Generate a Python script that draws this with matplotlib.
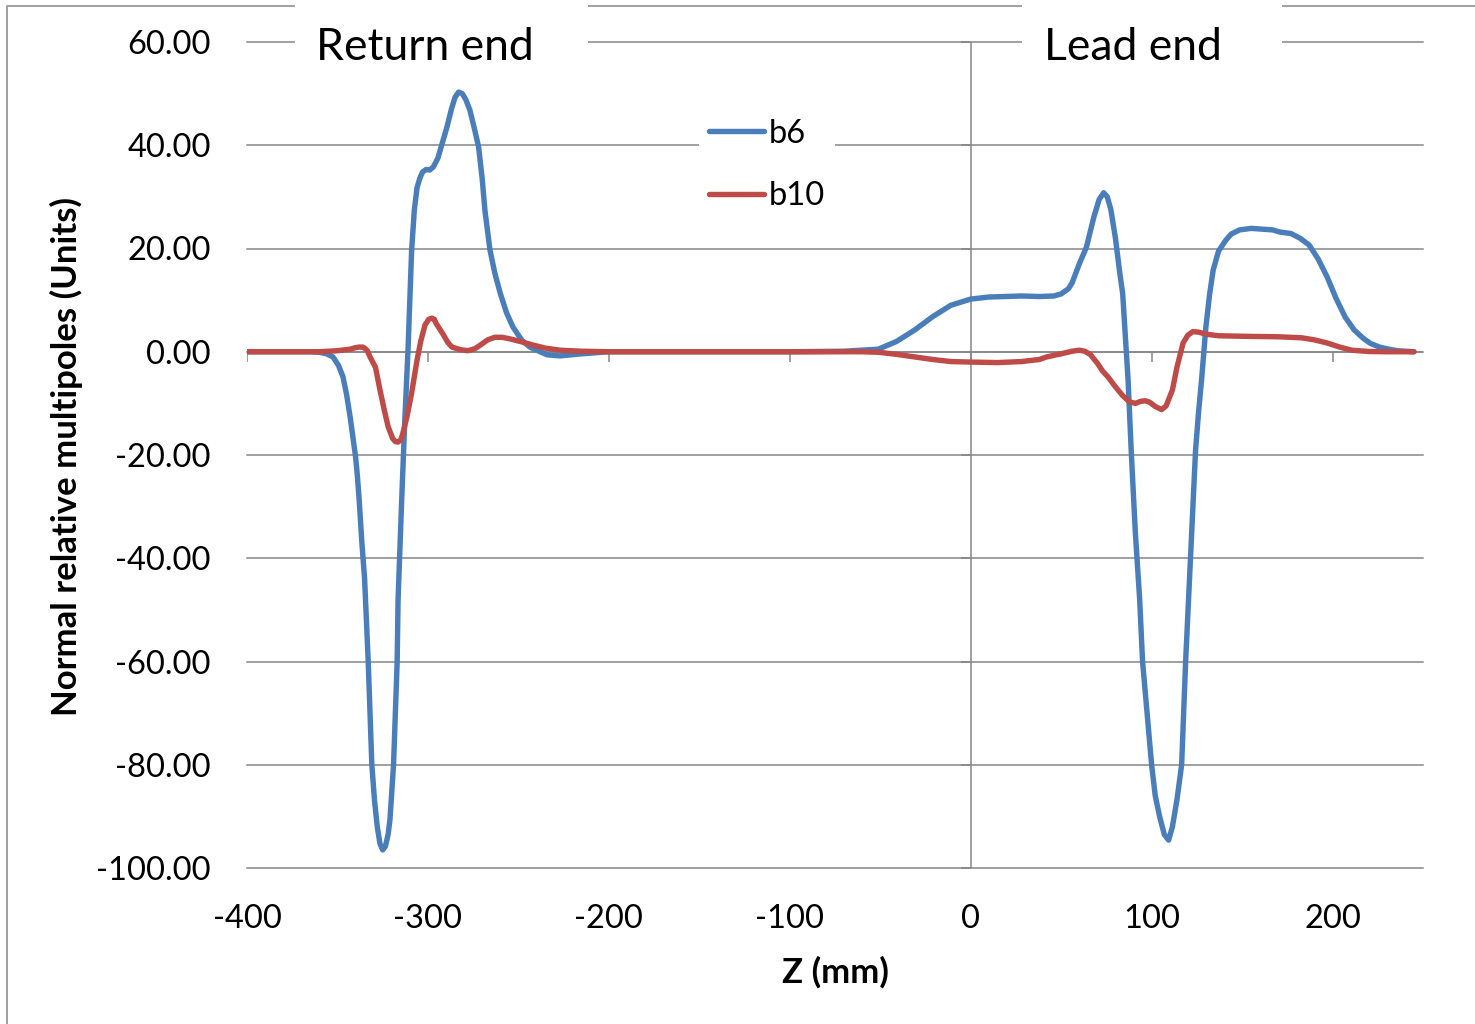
import matplotlib
matplotlib.use("Agg")
import matplotlib.pyplot as plt
from matplotlib.lines import Line2D
from matplotlib.patches import Rectangle

plt.rcParams["font.family"] = ["Lato", "DejaVu Sans"]

# data
z_b6 = [-400, -380, -365, -360, -356, -352.5, -349.5, -347, -345, -343, -341.5, -340,
        -339, -338, -336.5, -335, -333, -331, -329.5, -328, -326.5, -325, -323.5, -322,
        -321, -319, -317, -316.5, -314.5, -312.7, -311, -309, -307.5, -306, -304.5,
        -303, -301, -299, -297, -294.5, -292, -289.5, -287, -285, -283, -281, -279,
        -276.8, -274.5, -272, -270, -268.5, -265.7, -263, -260, -256.5, -253, -250,
        -248, -243.6, -238, -234, -227, -215, -200, -100, -70, -60, -51, -41, -31,
        -21, -11, 0, 10, 28, 38, 46, 50, 54, 56, 60, 64, 68, 71, 73.5, 75.5, 77.5,
        80, 82.5, 84, 87, 88.7, 91, 93.4, 95, 97.5, 100, 102, 104.4, 107, 109.4,
        111.5, 114, 116.6, 118.8, 120.4, 122.5, 124.3, 126, 127.6, 130, 132, 134,
        137, 141, 144, 148.6, 155, 167, 170.7, 177, 182, 187, 192, 197, 202, 207,
        212, 217, 221, 226, 231, 236, 245]
b6 = [0, 0, 0, -0.1, -0.4, -1, -2.6, -4.8, -8.2, -12.6, -16.5, -20.3,
      -24, -28.7, -37, -44, -60, -80, -87, -92, -95.3, -96.5, -95.8, -93.5,
      -90.7, -80, -60, -48, -28.7, -12.6, 0.4, 19.7, 27.5, 31.8, 33.6,
      34.8, 35.3, 35.2, 35.8, 37.5, 40.5, 43.5, 47, 49.3, 50.3, 50, 48.8,
      46.8, 43.5, 39.7, 33.5, 27.4, 19.7, 15.2, 11.3, 7.5, 4.8, 3.2,
      2.2, 0.9, 0, -0.6, -0.8, -0.4, 0, 0, 0.1, 0.3, 0.5, 2.0, 4.2,
      6.8, 9.0, 10.2, 10.6, 10.8, 10.7, 10.8, 11.2, 12.2, 13.3, 17, 20.3, 26,
      29.5, 30.8, 30, 27.5, 22, 15, 11.3, -5.5, -19, -35, -48, -60, -70, -80,
      -86, -90, -93.5, -94.6, -92, -86.8, -80, -60, -48, -32, -19, -11.5, -5.5,
      4.8, 11, 15.8, 19.5, 21.6, 22.8, 23.6, 23.9, 23.6, 23.2, 22.9, 22, 20.7,
      18, 14.5, 10.3, 6.7, 4.2, 2.6, 1.6, 0.9, 0.5, 0.2, 0]

z_b10 = [-400, -360, -350, -343, -340, -338, -336, -335, -333.5, -332, -329, -326.5,
         -324, -322, -319.5, -318, -316.6, -315, -314, -311.6, -309, -306, -304,
         -301.6, -299.5, -297.8, -296.5, -295.5, -292, -289, -286.7, -282, -277.9,
         -274, -271, -267, -263, -259, -254.7, -248, -242, -235, -227, -215, -200,
         -60, -51, -41, -31, -21, -11, 0, 15, 28, 38, 42, 50, 56, 60, 63, 66, 70,
         73, 75.7, 80, 84, 87.7, 91, 94, 96.6, 99, 102, 105.5, 108, 111.5, 114,
         117.4, 120, 122.8, 126, 130, 137, 150, 170, 183, 190, 197, 204, 210.6,
         220, 230, 245]
b10 = [0, 0, 0.2, 0.5, 0.8, 0.9, 0.9, 0.7, 0.2, -1, -3, -7.4,
       -11.5, -14.5, -16.8, -17.4, -17.5, -17.1, -16, -12.6, -8, -1.6, 2,
       5.2, 6.3, 6.5, 6.3, 5.5, 3.6, 1.8, 0.9, 0.4, 0.2,
       0.6, 1.3, 2.3, 2.8, 2.8, 2.5, 1.9, 1.3, 0.7, 0.3, 0.1, 0,
       0, -0.1, -0.5, -1.0, -1.5, -1.9, -2.0, -2.1, -1.9, -1.5, -1.0, -0.4, 0.1,
       0.3, 0.1, -0.5, -2.2, -3.8, -4.8, -6.8, -8.5, -9.7, -10, -9.6, -9.5,
       -9.8, -10.6, -11.2, -10.5, -7.4, -3, 1.7, 3.2, 3.9, 3.8, 3.4, 3.1, 3.0,
       2.9, 2.7, 2.3, 1.7, 0.9, 0.3, 0.05, 0, 0]

x_ticks = [-400, -300, -200, -100, 0, 100, 200]
y_ticks = [-100, -80, -60, -40, -20, 0, 20, 40, 60]

W, H = 1475, 1024
grey = "#868686"
fig = plt.figure(figsize=(W / 100, H / 100), dpi=100)
ax = fig.add_axes([247 / W, 1 - 868 / H, (1423 - 247) / W, (868 - 42) / H])

ax.set_xlim(-400, 250)
ax.set_ylim(-100, 60)
for s in ax.spines.values():
    s.set_visible(False)

ax.set_yticks(y_ticks)
ax.set_yticklabels(["%.2f" % v for v in y_ticks])
ax.set_xticks(x_ticks)
ax.set_xticklabels([str(v) for v in x_ticks])
ax.tick_params(axis="y", length=0, pad=26, labelsize=23.5)
ax.tick_params(axis="x", length=0, pad=26, labelsize=23.5)
ax.yaxis.grid(True, color=grey, lw=1.1)
for gl in ax.get_ygridlines():
    gl.set_clip_on(False)

# axis lines crossing at zero, with their tick marks
ax.axhline(0, color=grey, lw=1.1, zorder=1)
ax.axvline(0, color=grey, lw=1.1, zorder=1)
ax.vlines(x_ticks, -1.9, 0, color=grey, lw=1.1, zorder=1)
ax.hlines(y_ticks, -5.5, 0, color=grey, lw=1.1, zorder=1, clip_on=False)

l1, = ax.plot(z_b6, b6, color="#4A7EBB", lw=3.9, solid_joinstyle="round",
              solid_capstyle="round", zorder=3)
l2, = ax.plot(z_b10, b10, color="#BE4B48", lw=3.9, solid_joinstyle="round",
              solid_capstyle="round", zorder=4)

leg = ax.legend([l1, l2], ["b6", "b10"], loc="upper left",
                bbox_to_anchor=(699 / W, 1 - 109 / H), bbox_transform=fig.transFigure,
                fontsize=23.5, frameon=True, fancybox=False, framealpha=1,
                edgecolor="none", handlelength=1.7, handletextpad=0.15,
                labelspacing=1.0, borderpad=0.3, borderaxespad=0)
leg.set_zorder(6)

# chart border (partly cropped)
fig.add_artist(Line2D([7 / W, 7 / W, 1], [0, 1 - 6 / H, 1 - 6 / H],
                      color="#a0a0a0", lw=1.4, zorder=0.5))

# white text boxes over the top gridline
for x0, x1, xt, label in [(295, 588, 316, "Return end"), (1022, 1282, 1044, "Lead end")]:
    fig.add_artist(Rectangle((x0 / W, 1 - 80 / H), (x1 - x0) / W, 80 / H,
                             transform=fig.transFigure, facecolor="white",
                             edgecolor="none", zorder=1))
    fig.text(xt / W, 1 - 47 / H, label, fontsize=32, ha="left", va="center", zorder=2)

fig.text(66 / W, 1 - 456 / H, "Normal relative multipoles (Units)", rotation=90,
         fontsize=25, fontweight="bold", ha="center", va="center")
fig.text(835 / W, 1 - 972 / H, "Z (mm)", fontsize=25, fontweight="bold",
         ha="center", va="center")

fig.savefig("out.png", dpi=100)
